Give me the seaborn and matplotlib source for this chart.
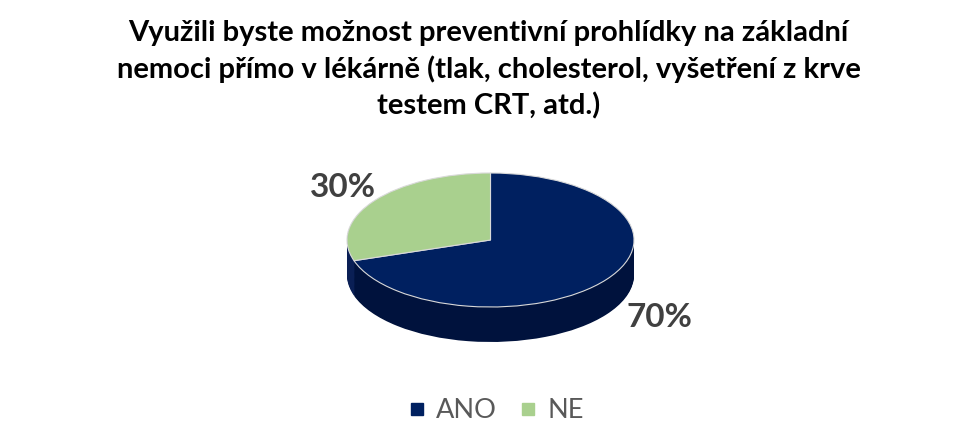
import matplotlib
matplotlib.use("Agg")
import matplotlib.pyplot as plt
import seaborn as sns
from matplotlib.lines import Line2D

# data
categories = ["ANO", "NE"]
values = [70, 30]
top_colors = ["#002060", "#A9D08E"]
side_colors = ["#00123D", "#0A1F55"]
title_lines = [
    "Využili byste možnost preventivní prohlídky na základní",
    "nemoci přímo v lékárně (tlak, cholesterol, vyšetření z krve",
    "testem CRT, atd.)",
]

sns.set_theme(style="white")
plt.rcParams["font.family"] = ["Lato", "DejaVu Sans"]

W, H = 977, 445
fig = plt.figure(figsize=(W / 100, H / 100), dpi=100)

# pie geometry in pixels (top face ellipse)
cx, cy = 490.5, 240.0
rx, ry = 143.5, 67.0
depth_px = 35.0
xl = (-1.5, 1.5)
yl = (-2.0, 1.5)
left_px = cx + xl[0] * rx
bottom_px = (H - cy) + yl[0] * ry
ax = fig.add_axes([left_px / W, bottom_px / H,
                   (xl[1] - xl[0]) * rx / W, (yl[1] - yl[0]) * ry / H])

# side of the cylinder: stacked copies of the pie, shifted down
depth = depth_px / ry
steps = 40
for i in range(steps, 0, -1):
    off = -depth * i / steps
    ax.pie(values, colors=side_colors, startangle=90, counterclock=False,
           center=(0, off), radius=1.0,
           wedgeprops=dict(linewidth=0))

# top face
wedges, _ = ax.pie(values, colors=top_colors, startangle=90, counterclock=False,
                   center=(0, 0), radius=1.0,
                   wedgeprops=dict(edgecolor="#D9D9D9", linewidth=0.8))

ax.set_aspect("auto")
ax.set_xlim(*xl)
ax.set_ylim(*yl)
ax.axis("off")

# data labels
label_pos = {"ANO": (1.18, -1.15), "NE": (-1.03, 0.79)}
for cat, v in zip(categories, values):
    x, y = label_pos[cat]
    ax.text(x, y, f"{v}%", ha="center", va="center", fontsize=24,
            fontweight="bold", color="#404040")

# title
fig.text(0.5, 1 - 70 / H, "\n".join(title_lines), ha="center", va="center",
         fontsize=21, fontweight="bold", color="black", linespacing=1.42)

# legend
handles = [Line2D([], [], marker="s", linestyle="", color=c, markersize=8.5)
           for c in top_colors]
fig.legend(handles, categories, loc="center", bbox_to_anchor=(497 / W, 1 - 411 / H),
           ncol=2, frameon=False, fontsize=19.5, handlelength=0.5,
           handletextpad=0.45, columnspacing=0.9, borderpad=0,
           labelcolor="#595959")

fig.savefig("out.png", dpi=100)
